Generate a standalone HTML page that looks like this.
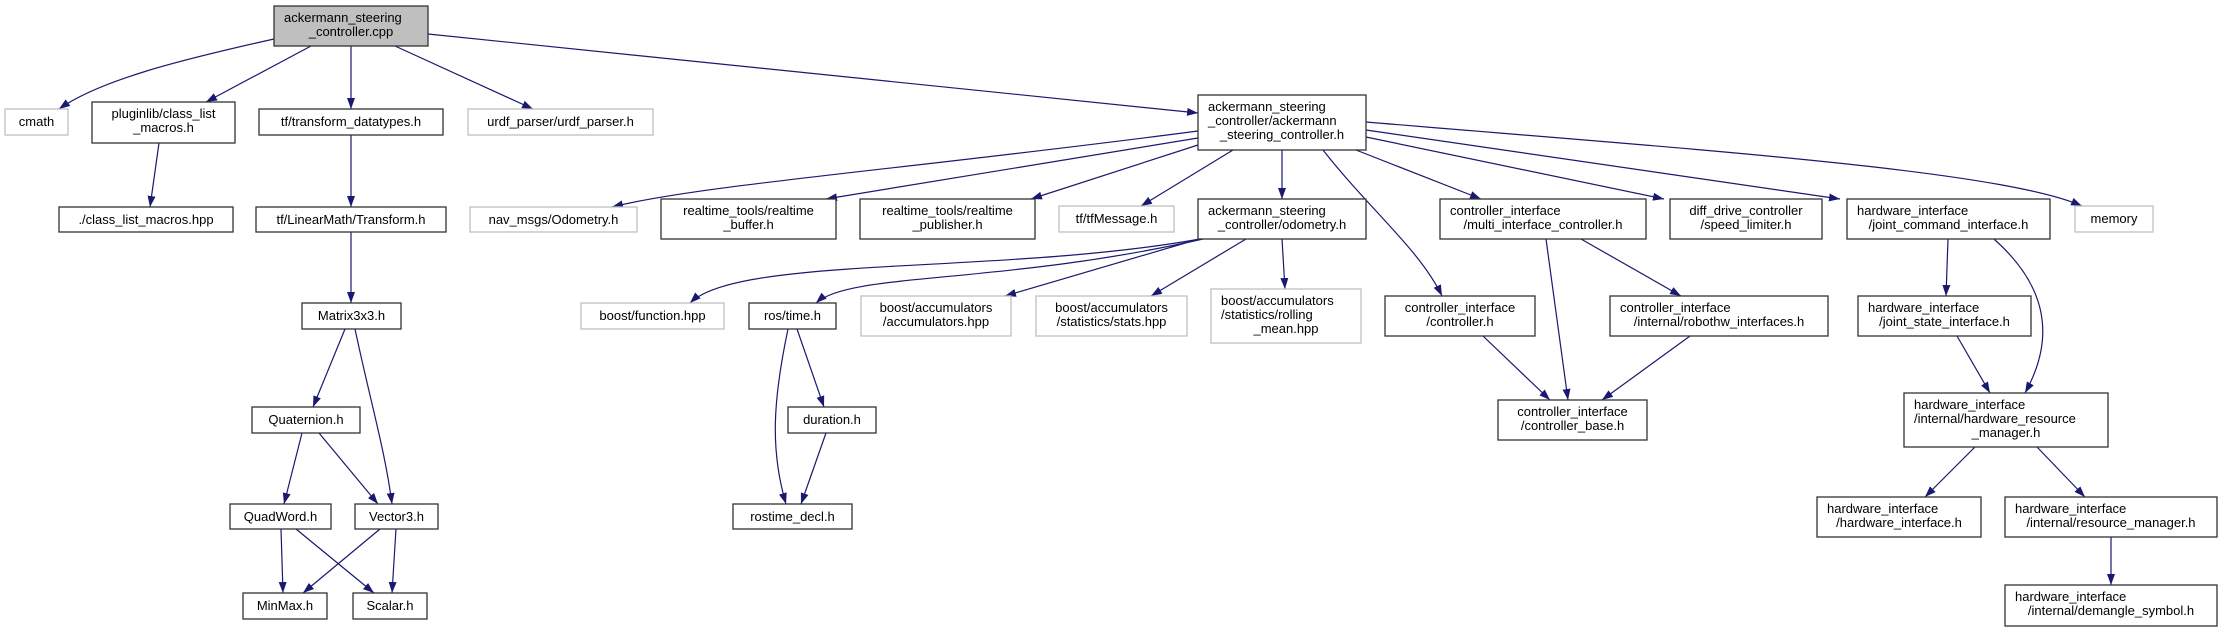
<!DOCTYPE html>
<html><head><meta charset="utf-8"><style>
html,body{margin:0;padding:0;background:#fff;}
svg{display:block;}
text{font-family:"Liberation Sans","DejaVu Sans",sans-serif;font-size:13px;fill:#000;}
.n rect{fill:#fff;stroke:#333;stroke-width:1.3;}
.l rect{fill:#fff;stroke:#bfbfbf;stroke-width:1.3;}
.e path{fill:none;stroke:#191970;stroke-width:1.2;marker-end:url(#ah);}
</style></head><body>
<svg width="2223" height="632" viewBox="0 0 2223 632" xmlns="http://www.w3.org/2000/svg">
<defs><marker id="ah" markerUnits="userSpaceOnUse" markerWidth="11" markerHeight="8" refX="11" refY="4" orient="auto"><path d="M0,0 L11,4 L0,8 z" fill="#191970"/></marker></defs>
<g class="e">
<path d="M274,39 C180,60 100,80 59,109"/>
<path d="M311,46 L206,102"/>
<path d="M351,46 L351,109"/>
<path d="M395,46 L533,109"/>
<path d="M428,34 L1198,113"/>
<path d="M159,143 L150,207"/>
<path d="M351,135 L351,207"/>
<path d="M351,232 L351,303"/>
<path d="M345,329 L313,407"/>
<path d="M355,329 C370,400 385,450 392,504"/>
<path d="M302,433 L284,504"/>
<path d="M319,433 L378,504"/>
<path d="M281,529 L283,593"/>
<path d="M296,529 L374,593"/>
<path d="M380,529 L303,593"/>
<path d="M396,529 L392,593"/>
<path d="M1198,131 C900,170 700,185 612,207"/>
<path d="M1198,138 L826,199"/>
<path d="M1198,145 L1031,199"/>
<path d="M1233,150 L1141,206"/>
<path d="M1282,150 L1282,199"/>
<path d="M1323,150 C1370,210 1420,250 1442,296"/>
<path d="M1356,150 L1481,199"/>
<path d="M1366,137 L1664,199"/>
<path d="M1366,130 L1840,199"/>
<path d="M1366,122 C1700,150 2000,170 2082,206"/>
<path d="M1200,239 C1000,275 740,255 690,303"/>
<path d="M1203,239 C1000,285 850,272 816,303"/>
<path d="M1199,239 L1005,296"/>
<path d="M1246,239 L1151,296"/>
<path d="M1282,239 L1285,289"/>
<path d="M797,329 L824,407"/>
<path d="M788,329 C773,400 770,450 786,504"/>
<path d="M826,433 L801,504"/>
<path d="M1546,239 L1568,400"/>
<path d="M1581,239 L1681,296"/>
<path d="M1483,336 L1550,400"/>
<path d="M1690,336 L1602,400"/>
<path d="M1948,239 L1946,296"/>
<path d="M1994,239 C2040,280 2060,330 2025,393"/>
<path d="M1957,336 L1990,393"/>
<path d="M1975,447 L1925,497"/>
<path d="M2037,447 L2085,497"/>
<path d="M2111,537 L2111,585"/>
</g>

<g class="n"><rect x="274" y="6" width="154" height="40" style="fill:#bfbfbf"/><text x="284" y="22">ackermann_steering</text><text x="351" y="36" text-anchor="middle">_controller.cpp</text></g>
<g class="l"><rect x="5" y="109" width="63" height="26"/><text x="36.5" y="126" text-anchor="middle">cmath</text></g>
<g class="n"><rect x="92" y="102" width="143" height="41"/><text x="163.5" y="118" text-anchor="middle">pluginlib/class_list</text><text x="163.5" y="132" text-anchor="middle">_macros.h</text></g>
<g class="n"><rect x="259" y="109" width="184" height="26"/><text x="351" y="126" text-anchor="middle">tf/transform_datatypes.h</text></g>
<g class="l"><rect x="468" y="109" width="185" height="26"/><text x="560.5" y="126" text-anchor="middle">urdf_parser/urdf_parser.h</text></g>
<g class="n"><rect x="1198" y="95" width="168" height="55"/><text x="1208" y="111">ackermann_steering</text><text x="1208" y="125">_controller/ackermann</text><text x="1282" y="139" text-anchor="middle">_steering_controller.h</text></g>
<g class="n"><rect x="59" y="207" width="174" height="25"/><text x="146" y="224" text-anchor="middle">./class_list_macros.hpp</text></g>
<g class="n"><rect x="256" y="207" width="190" height="25"/><text x="351" y="224" text-anchor="middle">tf/LinearMath/Transform.h</text></g>
<g class="l"><rect x="470" y="207" width="167" height="25"/><text x="553.5" y="224" text-anchor="middle">nav_msgs/Odometry.h</text></g>
<g class="n"><rect x="661" y="199" width="175" height="40"/><text x="748.5" y="215" text-anchor="middle">realtime_tools/realtime</text><text x="748.5" y="229" text-anchor="middle">_buffer.h</text></g>
<g class="n"><rect x="860" y="199" width="175" height="40"/><text x="947.5" y="215" text-anchor="middle">realtime_tools/realtime</text><text x="947.5" y="229" text-anchor="middle">_publisher.h</text></g>
<g class="l"><rect x="1059" y="206" width="115" height="26"/><text x="1116.5" y="223" text-anchor="middle">tf/tfMessage.h</text></g>
<g class="n"><rect x="1198" y="199" width="168" height="40"/><text x="1208" y="215">ackermann_steering</text><text x="1282" y="229" text-anchor="middle">_controller/odometry.h</text></g>
<g class="n"><rect x="1440" y="199" width="206" height="40"/><text x="1450" y="215">controller_interface</text><text x="1543" y="229" text-anchor="middle">/multi_interface_controller.h</text></g>
<g class="n"><rect x="1670" y="199" width="152" height="40"/><text x="1746" y="215" text-anchor="middle">diff_drive_controller</text><text x="1746" y="229" text-anchor="middle">/speed_limiter.h</text></g>
<g class="n"><rect x="1847" y="199" width="203" height="40"/><text x="1857" y="215">hardware_interface</text><text x="1948.5" y="229" text-anchor="middle">/joint_command_interface.h</text></g>
<g class="l"><rect x="2075" y="206" width="78" height="26"/><text x="2114" y="223" text-anchor="middle">memory</text></g>
<g class="n"><rect x="302" y="303" width="99" height="26"/><text x="351.5" y="320" text-anchor="middle">Matrix3x3.h</text></g>
<g class="l"><rect x="581" y="303" width="143" height="26"/><text x="652.5" y="320" text-anchor="middle">boost/function.hpp</text></g>
<g class="n"><rect x="749" y="303" width="87" height="26"/><text x="792.5" y="320" text-anchor="middle">ros/time.h</text></g>
<g class="l"><rect x="861" y="296" width="150" height="40"/><text x="936" y="312" text-anchor="middle">boost/accumulators</text><text x="936" y="326" text-anchor="middle">/accumulators.hpp</text></g>
<g class="l"><rect x="1036" y="296" width="151" height="40"/><text x="1111.5" y="312" text-anchor="middle">boost/accumulators</text><text x="1111.5" y="326" text-anchor="middle">/statistics/stats.hpp</text></g>
<g class="l"><rect x="1211" y="289" width="150" height="54"/><text x="1221" y="305">boost/accumulators</text><text x="1221" y="319">/statistics/rolling</text><text x="1286" y="333" text-anchor="middle">_mean.hpp</text></g>
<g class="n"><rect x="1385" y="296" width="150" height="40"/><text x="1460" y="312" text-anchor="middle">controller_interface</text><text x="1460" y="326" text-anchor="middle">/controller.h</text></g>
<g class="n"><rect x="1610" y="296" width="218" height="40"/><text x="1620" y="312">controller_interface</text><text x="1719" y="326" text-anchor="middle">/internal/robothw_interfaces.h</text></g>
<g class="n"><rect x="1858" y="296" width="173" height="40"/><text x="1868" y="312">hardware_interface</text><text x="1944.5" y="326" text-anchor="middle">/joint_state_interface.h</text></g>
<g class="n"><rect x="252" y="407" width="108" height="26"/><text x="306" y="424" text-anchor="middle">Quaternion.h</text></g>
<g class="n"><rect x="788" y="407" width="88" height="26"/><text x="832" y="424" text-anchor="middle">duration.h</text></g>
<g class="n"><rect x="1498" y="400" width="149" height="40"/><text x="1572.5" y="416" text-anchor="middle">controller_interface</text><text x="1572.5" y="430" text-anchor="middle">/controller_base.h</text></g>
<g class="n"><rect x="1904" y="393" width="204" height="54"/><text x="1914" y="409">hardware_interface</text><text x="1914" y="423">/internal/hardware_resource</text><text x="2006" y="437" text-anchor="middle">_manager.h</text></g>
<g class="n"><rect x="230" y="504" width="101" height="25"/><text x="280.5" y="521" text-anchor="middle">QuadWord.h</text></g>
<g class="n"><rect x="355" y="504" width="83" height="25"/><text x="396.5" y="521" text-anchor="middle">Vector3.h</text></g>
<g class="n"><rect x="733" y="504" width="119" height="25"/><text x="792.5" y="521" text-anchor="middle">rostime_decl.h</text></g>
<g class="n"><rect x="1817" y="497" width="164" height="40"/><text x="1827" y="513">hardware_interface</text><text x="1899" y="527" text-anchor="middle">/hardware_interface.h</text></g>
<g class="n"><rect x="2005" y="497" width="212" height="40"/><text x="2015" y="513">hardware_interface</text><text x="2111" y="527" text-anchor="middle">/internal/resource_manager.h</text></g>
<g class="n"><rect x="243" y="593" width="84" height="26"/><text x="285" y="610" text-anchor="middle">MinMax.h</text></g>
<g class="n"><rect x="353" y="593" width="74" height="26"/><text x="390" y="610" text-anchor="middle">Scalar.h</text></g>
<g class="n"><rect x="2005" y="585" width="212" height="41"/><text x="2015" y="601">hardware_interface</text><text x="2111" y="615" text-anchor="middle">/internal/demangle_symbol.h</text></g>
</svg>
</body></html>
